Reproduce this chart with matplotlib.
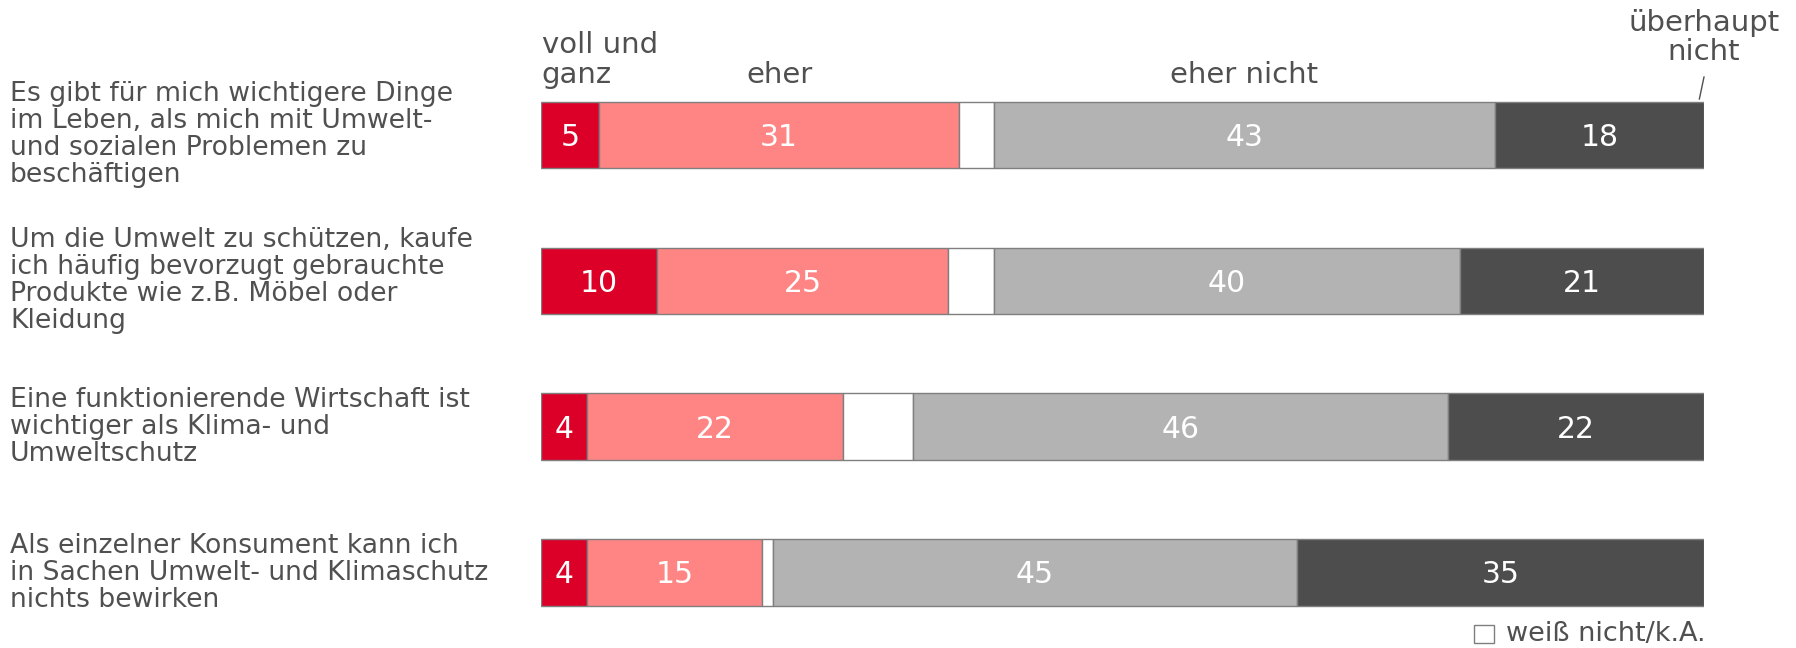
import numpy as np
import matplotlib.pyplot as plt
from matplotlib.patches import Rectangle
from matplotlib import transforms

# Daten
statements = [
    'Es gibt für mich wichtigere Dinge\nim Leben, als mich mit Umwelt-\nund sozialen Problemen zu\nbeschäftigen',
    'Um die Umwelt zu schützen, kaufe\nich häufig bevorzugt gebrauchte\nProdukte wie z.B. Möbel oder\nKleidung',
    'Eine funktionierende Wirtschaft ist\nwichtiger als Klima- und\nUmweltschutz',
    'Als einzelner Konsument kann ich\nin Sachen Umwelt- und Klimaschutz\nnichts bewirken',
]
voll_und_ganz = [5, 10, 4, 4]
eher = [31, 25, 22, 15]
weiss_nicht = [3, 4, 6, 1]
eher_nicht = [43, 40, 46, 45]
ueberhaupt_nicht = [18, 21, 22, 35]

series = [voll_und_ganz, eher, weiss_nicht, eher_nicht, ueberhaupt_nicht]
colors = ['#DC0028', '#FF8585', '#FFFFFF', '#B3B3B3', '#4D4D4D']
show_label = [True, True, False, True, True]

TXT = '#505050'
W, H = 1796, 648

fig = plt.figure(figsize=(W / 100, H / 100), dpi=100)
ax = fig.add_axes([540.7 / W, 1 - 645.6 / H, 1163.3 / W, (645.6 - 62) / H])

y = np.arange(len(statements))
left = np.zeros(len(statements))
for vals, col, lab in zip(series, colors, show_label):
    vals = np.array(vals, dtype=float)
    ax.barh(y, vals, left=left, height=0.4565, color=col,
            edgecolor='#7F7F7F', linewidth=1.0)
    if lab:
        for yi, l, v in zip(y, left, vals):
            # leicht nach unten, wie im Original
            ax.text(l + v / 2, yi + 0.016, str(int(v)), ha='center', va='center',
                    color='white', fontsize=21.5)
    left += vals

ax.set_xlim(0, 100)
ax.set_ylim(3.5, -0.5)
ax.axis('off')

# Aussagen links
for yi, s in zip(y, statements):
    ax.text(10 / W, yi, s, transform=transforms.blended_transform_factory(fig.transFigure, ax.transData),
            ha='left', va='center', fontsize=19.2, color=TXT, linespacing=1.05)

# Kopfzeilen über dem ersten Balken
tr = transforms.blended_transform_factory(ax.transData, fig.transFigure)
starts = np.cumsum([0] + [s[0] for s in series])
mids = [(starts[i] + starts[i + 1]) / 2 for i in range(len(series))]
ax.text(0.1, 1 - 53 / H, 'voll und', transform=tr, ha='left', va='baseline', fontsize=21, color=TXT)
ax.text(0.1, 1 - 83 / H, 'ganz', transform=tr, ha='left', va='baseline', fontsize=21, color=TXT)
ax.text(mids[1], 1 - 83 / H, 'eher', transform=tr, ha='center', va='baseline', fontsize=21, color=TXT)
ax.text(mids[3], 1 - 83 / H, 'eher nicht', transform=tr, ha='center', va='baseline', fontsize=21, color=TXT)
ax.text(100, 1 - 31 / H, 'überhaupt', transform=tr, ha='center', va='baseline', fontsize=21, color=TXT)
ax.text(100, 1 - 60 / H, 'nicht', transform=tr, ha='center', va='baseline', fontsize=21, color=TXT)
ax.plot([100.0, 99.6], [1 - 77 / H, 1 - 99 / H], transform=tr, color=TXT, lw=1, clip_on=False)

# Legende weiß nicht
fig.patches.append(Rectangle((1474 / W, 1 - 643 / H), 20 / W, 18 / H, transform=fig.transFigure,
                             facecolor='white', edgecolor='#7F7F7F', lw=1))
fig.text(1705 / W, 1 - 641 / H, 'weiß nicht/k.A.', ha='right', va='baseline', fontsize=19.5, color=TXT)

fig.savefig('out.png', dpi=100)
